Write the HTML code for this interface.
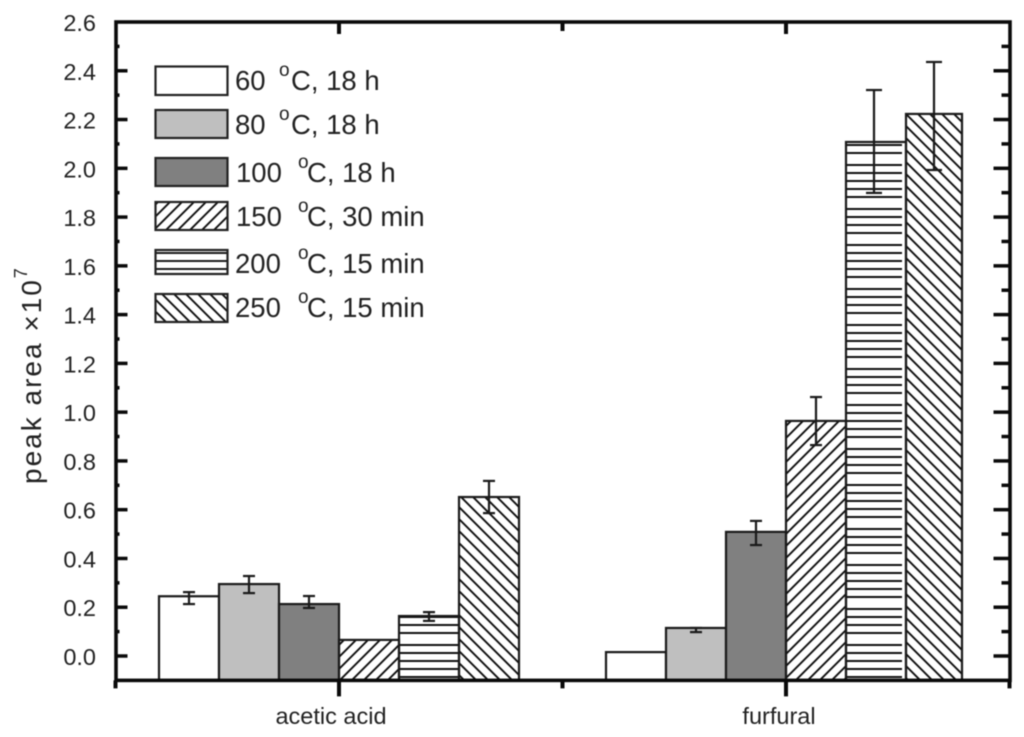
<!DOCTYPE html>
<html lang="en">
<head>
<meta charset="utf-8">
<title>Peak area bar chart</title>
<style>
html,body{margin:0;padding:0;background:#fff;width:1024px;height:737px;overflow:hidden}
svg{display:block;filter:blur(0.45px)}
text{font-family:"Liberation Sans",Arial,sans-serif;fill:#222}
</style>
</head>
<body>
<svg id="chart" width="1024" height="737" viewBox="0 0 1024 737" xmlns="http://www.w3.org/2000/svg">
  <defs>
    <pattern id="hatch-fwd" patternUnits="userSpaceOnUse" width="12" height="12">
      <path d="M-3,3L3,-3M0,12L12,0M9,15L15,9" stroke="#111" stroke-width="1.9" fill="none"/>
    </pattern>
    <pattern id="hatch-back" patternUnits="userSpaceOnUse" width="12" height="12">
      <path d="M-3,9L3,15M0,0L12,12M9,-3L15,3" stroke="#111" stroke-width="1.9" fill="none"/>
    </pattern>
    <pattern id="hatch-horiz" patternUnits="userSpaceOnUse" width="12" height="80" y="4">
      <path d="M0,1H12M0,9H12M0,17H12M0,25H12M0,33H12M0,45H12M0,53H12M0,61H12M0,69H12" stroke="#111" stroke-width="1.9" fill="none"/>
    </pattern>
    <pattern id="hatch-legend" patternUnits="userSpaceOnUse" width="12" height="8" y="1">
      <path d="M0,4H12" stroke="#111" stroke-width="1.9" fill="none"/>
    </pattern>
  </defs>

  <g id="bars"></g>
  <g id="axes"></g>

  <text transform="translate(41,484) rotate(-90)" font-size="28" letter-spacing="2">peak area ×10<tspan font-size="18" dy="-14" letter-spacing="0">7</tspan></text>

  <g>
    <g>
      <rect x="155.5" y="66.5" width="72" height="28.5" fill="#fff" stroke="#222" stroke-width="2.2"/>
      <text x="235" y="90" font-size="27.5">60<tspan x="279" dy="-14" font-size="19">o</tspan><tspan x="291" dy="14">C, 18 h</tspan></text>
    </g>
    <g>
      <rect x="155.5" y="110" width="72" height="28" fill="#bfbfbf" stroke="#222" stroke-width="2.2"/>
      <text x="235" y="134" font-size="27.5">80<tspan x="279" dy="-14" font-size="19">o</tspan><tspan x="291" dy="14">C, 18 h</tspan></text>
    </g>
    <g>
      <rect x="155.5" y="158" width="72" height="28" fill="#808080" stroke="#222" stroke-width="2.2"/>
      <text x="236" y="182" font-size="27.5">100<tspan x="298" dy="-14" font-size="19">o</tspan><tspan x="307" dy="14">C, 18 h</tspan></text>
    </g>
    <g>
      <rect x="155.5" y="202" width="72" height="28" fill="url(#hatch-fwd)" stroke="#222" stroke-width="2.2"/>
      <text x="236" y="226" font-size="27.5">150<tspan x="298" dy="-14" font-size="19">o</tspan><tspan x="307" dy="14">C, 30 min</tspan></text>
    </g>
    <g>
      <rect x="155.5" y="250" width="72" height="24" fill="url(#hatch-legend)" stroke="#222" stroke-width="2.2"/>
      <text x="235" y="273" font-size="27.5">200<tspan x="298" dy="-14" font-size="19">o</tspan><tspan x="307" dy="14">C, 15 min</tspan></text>
    </g>
    <g>
      <rect x="155.5" y="294" width="72" height="28" fill="url(#hatch-back)" stroke="#222" stroke-width="2.2"/>
      <text x="235" y="317" font-size="27.5">250<tspan x="298" dy="-14" font-size="19">o</tspan><tspan x="307" dy="14">C, 15 min</tspan></text>
    </g>
  </g>
</svg>

<script>
const categories = ['acetic acid', 'furfural'];
const seriesNames = ['60c-18h', '80c-18h', '100c-18h', '150c-30min', '200c-15min', '250c-15min'];
const aceticValues = [0.245, 0.295, 0.213, 0.066, 0.164, 0.652];
const furfuralValues = [0.016, 0.115, 0.509, 0.964, 2.108, 2.223];
const aceticErrHigh = [0.262, 0.328, 0.246, null, 0.180, 0.718];
const aceticErrLow = [0.213, 0.258, 0.197, null, 0.144, 0.586];
const furfuralErrHigh = [null, 0.115, 0.554, 1.062, 2.321, 2.436];
const furfuralErrLow = [null, 0.098, 0.455, 0.865, 1.899, 1.993];
const tickLabels = ['0.0', '0.2', '0.4', '0.6', '0.8', '1.0', '1.2', '1.4', '1.6', '1.8', '2.0', '2.2', '2.4', '2.6'];
const seriesFills = ['#fff', '#bfbfbf', '#808080', 'url(#hatch-fwd)', 'url(#hatch-horiz)', 'url(#hatch-back)'];

const NS = 'http://www.w3.org/2000/svg';
const barsLayer = document.getElementById('bars');
const axesLayer = document.getElementById('axes');

const yMin = -0.1;
const yMax = 2.6;
function yScale(v) { return 656 - v * (634 / 2.6); }
function categoryCenter(i) { return 339 + 447 * i; }
function categoryEdge(i) { return categoryCenter(i) - 223.5; }
function barLeft(g, j) { return categoryCenter(g) + (j - 3) * 60; }

const left = categoryEdge(0);
const right = categoryEdge(2);
const top_ = yScale(yMax);
const bottom = yScale(yMin);

function make(tag, parent) {
  const el = document.createElementNS(NS, tag);
  parent.appendChild(el);
  return el;
}
function setLine(el, x1, y1, x2, y2, width, color) {
  el.setAttribute('x1', x1);
  el.setAttribute('y1', y1);
  el.setAttribute('x2', x2);
  el.setAttribute('y2', y2);
  el.setAttribute('stroke', color);
  el.setAttribute('stroke-width', width);
}

const groupValues = [aceticValues, furfuralValues];
const groupHigh = [aceticErrHigh, furfuralErrHigh];
const groupLow = [aceticErrLow, furfuralErrLow];

groupValues.forEach(function (values, g) {
  values.forEach(function (value, j) {
    const narrow = g === 1 && j >= 4;
    const w = narrow ? 56 : 60;
    const outlineW = g === 1 && j === 4 ? 60 : w;
    const x = barLeft(g, j);
    const y = yScale(value);

    const fill = make('rect', barsLayer);
    
    
    fill.setAttribute('x', x);
    fill.setAttribute('y', y);
    fill.setAttribute('width', w);
    fill.setAttribute('height', bottom - y);
    fill.setAttribute('fill', seriesFills[j]);

    const outline = make('rect', barsLayer);
    
    
    outline.setAttribute('x', x);
    outline.setAttribute('y', y);
    outline.setAttribute('width', outlineW);
    outline.setAttribute('height', bottom - y);
    outline.setAttribute('fill', 'none');
    outline.setAttribute('stroke', '#1a1a1a');
    outline.setAttribute('stroke-width', '2.2');
  });
});

groupValues.forEach(function (values, g) {
  values.forEach(function (value, j) {
    const hi = groupHigh[g][j];
    const lo = groupLow[g][j];
    if (hi === null || lo === null) return;
    const w = g === 1 && j >= 4 ? 56 : 60;
    const cx = barLeft(g, j) + w / 2;
    const cap = hi - lo > 0.3 ? 8 : 6;

    const stem = make('line', barsLayer);
    
    
    setLine(stem, cx, yScale(hi), cx, yScale(lo), 2.2, '#1a1a1a');

    const capTop = make('line', barsLayer);
    
    
    setLine(capTop, cx - cap, yScale(hi), cx + cap, yScale(hi), 2.2, '#1a1a1a');

    const capBottom = make('line', barsLayer);
    
    
    setLine(capBottom, cx - cap, yScale(lo), cx + cap, yScale(lo), 2.2, '#1a1a1a');
  });
});

const frame = make('rect', axesLayer);


frame.setAttribute('x', left + 0.5);
frame.setAttribute('y', top_);
frame.setAttribute('width', right - left);
frame.setAttribute('height', bottom - top_);
frame.setAttribute('fill', 'none');
frame.setAttribute('stroke', '#0a0a0a');
frame.setAttribute('stroke-width', '3.6');

tickLabels.forEach(function (label, i) {
  const v = parseFloat(label);
  const y = yScale(v);

  const t = make('text', axesLayer);
  
  
  t.setAttribute('x', 96);
  t.setAttribute('y', y + 9);
  t.setAttribute('text-anchor', 'end');
  t.setAttribute('font-size', '23.5');
  t.textContent = label;

  if (i < tickLabels.length - 1) {
    const majorL = make('line', axesLayer);
    
    
    setLine(majorL, left, y, left + 12, y, 3.5, '#0a0a0a');

    const majorR = make('line', axesLayer);
    
    
    setLine(majorR, right - 16, y, right, y, 3.5, '#0a0a0a');

    const mid = yScale(v + 0.1);
    const minorL = make('line', axesLayer);
    
    
    setLine(minorL, left, mid, left + 4, mid, 3.5, '#0a0a0a');

    const minorR = make('line', axesLayer);
    
    
    setLine(minorR, right - 8, mid, right, mid, 3.5, '#0a0a0a');
  }
});

categories.forEach(function (name, i) {
  const cx = categoryCenter(i);

  const tickB = make('line', axesLayer);
  
  
  setLine(tickB, cx, bottom, cx, bottom + 16, 4, '#0a0a0a');

  const tickT = make('line', axesLayer);
  
  
  setLine(tickT, cx, top_, cx, top_ + 12, 4, '#0a0a0a');

  const label = make('text', axesLayer);
  
  
  label.setAttribute('x', i === 0 ? cx - 8 : cx - 7);
  label.setAttribute('y', 724);
  label.setAttribute('text-anchor', 'middle');
  label.setAttribute('font-size', '23.5');
  label.textContent = name;
});

[0, 1, 2].forEach(function (i) {
  const x = categoryEdge(i);

  const minorB = make('line', axesLayer);
  
  
  setLine(minorB, x, bottom, x, bottom + 8, 4, '#0a0a0a');

  if (i === 1) {
    const minorT = make('line', axesLayer);
    
    
    setLine(minorT, x, top_, x, top_ + 9, 4, '#0a0a0a');
  }
});
</script>
</body>
</html>
